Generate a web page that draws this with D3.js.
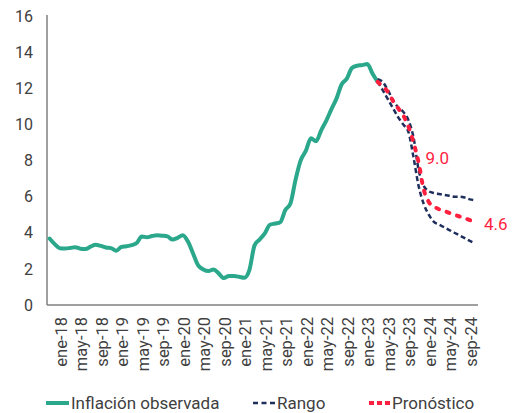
<!DOCTYPE html>
<html><head><meta charset="utf-8">
<script src="https://cdn.jsdelivr.net/npm/d3@7"></script>
<style>
body{margin:0;background:#fff;}
svg{display:block;}
</style></head>
<body>
<svg id="c" width="516" height="413"></svg>
<script>
// ---- data ----
const monthNames = ["ene","feb","mar","abr","may","jun","jul","ago","sep","oct","nov","dic"];
const years = ["18","19","20","21","22","23","24"];
const months = [];
years.forEach(y => monthNames.forEach(m => months.push(m + "-" + y)));

const tickLabels = ["ene-18","may-18","sep-18","ene-19","may-19","sep-19","ene-20","may-20","sep-20",
  "ene-21","may-21","sep-21","ene-22","may-22","sep-22","ene-23","may-23","sep-23","ene-24","may-24","sep-24"];
const yTicks = [0,2,4,6,8,10,12,14,16];

// Inflación observada ene-18 .. may-23
const observed = [
  3.68,3.37,3.14,3.13,3.16,3.20,3.12,3.10,3.23,3.33,3.27,3.18,
  3.15,3.01,3.21,3.25,3.31,3.43,3.79,3.75,3.82,3.86,3.84,3.80,
  3.62,3.72,3.86,3.51,2.85,2.19,1.97,1.88,1.97,1.75,1.49,1.61,
  1.60,1.56,1.51,1.95,3.30,3.63,3.97,4.44,4.51,4.58,5.26,5.62,
  6.94,8.01,8.53,9.23,9.07,9.67,10.21,10.84,11.44,12.22,12.53,13.12,
  13.25,13.28,13.34,12.82,12.36
];
// Forecast months may-23 .. dic-24
const forecastStart = "may-23";
const forecast = [12.36,12.1,11.8,11.3,10.9,10.5,9.9,9.0,7.9,6.4,5.7,5.45,5.3,5.2,5.1,5.0,4.9,4.8,4.7,4.6];
const upper    = [12.5,12.35,11.9,11.35,10.95,10.7,10.25,9.3,7.5,6.6,6.3,6.2,6.15,6.1,6.05,6.0,6.0,5.95,5.85,5.8];
const lower    = [12.36,11.9,11.4,10.9,10.4,10.0,9.6,8.2,6.6,5.6,5.0,4.6,4.45,4.3,4.15,4.0,3.85,3.7,3.55,3.4];
const labelled = [{m:"dic-23", v:9.0, text:"9.0"}, {m:"dic-24", v:4.6, text:"4.6"}];

const legendItems = ["Inflación observada","Rango","Pronóstico"];

// ---- drawing ----
const svg = d3.select("#c");
const green = "#2ba88b", navy = "#1f2f5c", red = "#ff1f3f", axisCol = "#808080", textCol = "#404040";

const x = d3.scalePoint().domain(months).range([47, 477.5]).padding(0.5);
const y = d3.scaleLinear().domain([0,16]).range([305, 16]);

// axes
const yAx = svg.append("g").attr("transform","translate(47,0)")
  .call(d3.axisLeft(y).tickValues(yTicks).tickSize(0).tickPadding(14));
yAx.select(".domain").attr("stroke", axisCol).attr("stroke-width",1.5).attr("d","M0,15V305");
yAx.selectAll("text").attr("fill", textCol).style("font-family","Roboto, sans-serif").style("font-size","16px");

const xAx = svg.append("g").attr("transform","translate(0,305)")
  .call(d3.axisBottom(x).tickValues(tickLabels).tickSize(0));
xAx.select(".domain").attr("stroke", axisCol).attr("stroke-width",1.5).attr("d","M47,0H478");
xAx.selectAll("text")
  .attr("x",0).attr("y",0).attr("dy","0.35em")
  .attr("transform","translate(11,12) rotate(-90)")
  .style("text-anchor","end")
  .attr("fill", textCol)
  .style("font-family","Roboto, sans-serif")
  .style("font-size","16.5px");

// lines
const obsData = observed.map((v,i) => ({m: months[i], v}));
const s = months.indexOf(forecastStart);
const toSeries = arr => arr.map((v,i) => ({m: months[s+i], v}));
const line = d3.line().x(d => x(d.m)).y(d => y(d.v)).curve(d3.curveMonotoneX);

svg.append("path").datum(obsData).attr("d", line)
  .attr("fill","none").attr("stroke", green).attr("stroke-width",4).attr("stroke-linejoin","round").attr("stroke-linecap","round");

[upper, lower].forEach(arr => {
  svg.append("path").datum(toSeries(arr)).attr("d", line)
    .attr("fill","none").attr("stroke", navy).attr("stroke-width",2.5)
    .attr("stroke-dasharray","5,3").attr("stroke-linecap","butt");
});
svg.append("path").datum(toSeries(forecast)).attr("d", line)
  .attr("fill","none").attr("stroke", red).attr("stroke-width",4)
  .attr("stroke-dasharray","3,8").attr("stroke-linecap","round");

// data labels
svg.selectAll(".dl").data(labelled).enter().append("text")
  .attr("x", d => x(d.m) + (d.text === "9.0" ? 12 : 9))
  .attr("y", d => y(d.v) + (d.text === "9.0" ? 16 : 2))
  .attr("dy","0.35em")
  .attr("fill", red).style("font-family","Roboto, sans-serif").style("font-size","17px")
  .text(d => d.text);

// legend
const lg = svg.append("g");
const ly = 403;
const lx = [46, 252, 367];
lg.append("line").attr("x1",lx[0]).attr("x2",lx[0]+23).attr("y1",ly).attr("y2",ly)
  .attr("stroke",green).attr("stroke-width",4);
lg.append("line").attr("x1",lx[1]+1).attr("x2",lx[1]+23).attr("y1",ly).attr("y2",ly)
  .attr("stroke",navy).attr("stroke-width",2.5).attr("stroke-dasharray","5,3.5");
lg.append("line").attr("x1",lx[2]+2).attr("x2",lx[2]+23).attr("y1",ly).attr("y2",ly)
  .attr("stroke",red).attr("stroke-width",4).attr("stroke-dasharray","5,3").attr("stroke-linecap","butt");
legendItems.forEach((t,i) => {
  lg.append("text").attr("x", lx[i]+25).attr("y", ly).attr("dy","0.35em")
    .attr("fill", textCol).style("font-family","Roboto, sans-serif").style("font-size","17px").text(t);
});
</script>
</body></html>
